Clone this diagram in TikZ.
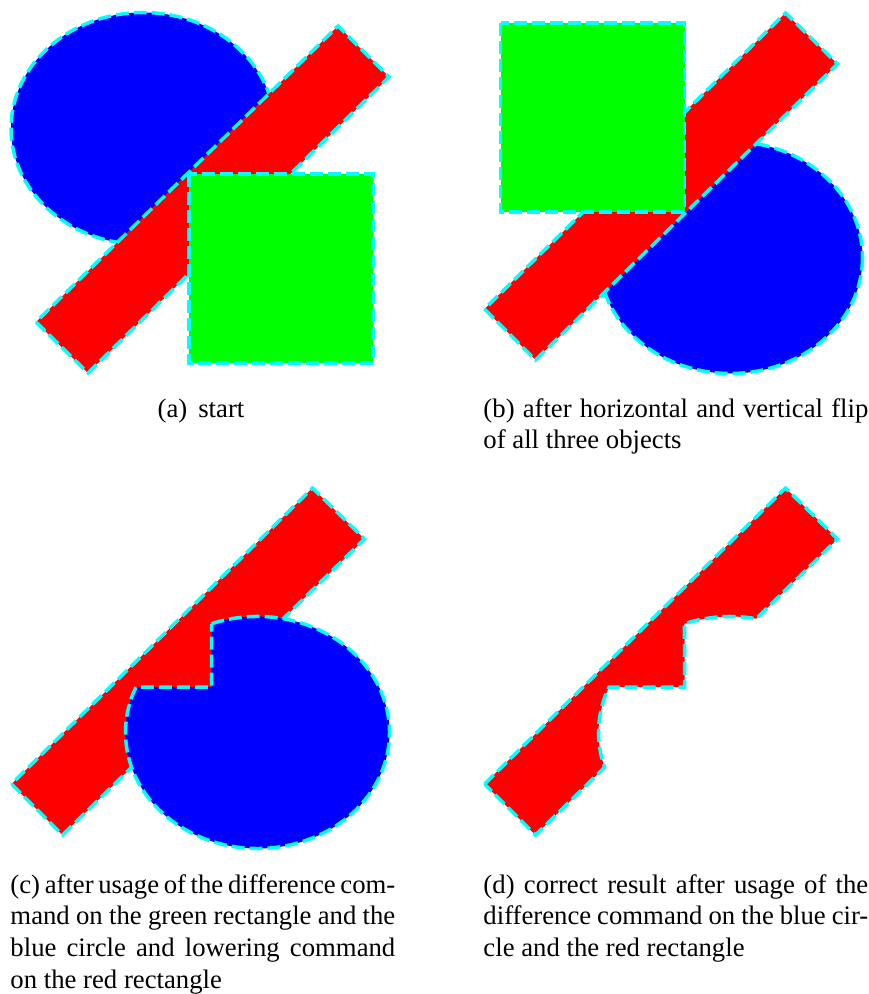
\documentclass[tikz,border=0pt]{standalone}
\usepackage{fontspec}
\setmainfont{Liberation Serif}
\definecolor{cblue}{RGB}{0,0,255}
\definecolor{cred}{RGB}{255,0,0}
\definecolor{cgreen}{RGB}{0,255,0}
\definecolor{ccyan}{RGB}{0,255,255}
\tikzset{
  outl/.style={draw=ccyan, line width=1.43pt, dash pattern=on 5.3pt off 2.04pt},
  bluefill/.style={fill=cblue, outl},
  redfill/.style={fill=cred, outl},
  greenfill/.style={fill=cgreen, outl},
  captfont/.style={font=\fontsize{10.9}{12.97}\selectfont},
  capt/.style={captfont, inner sep=0pt, text width=157pt, align=justify, anchor=base west},
}
\begin{document}
\begin{tikzpicture}[x=0.408pt, y=-0.408pt]
\useasboundingbox (0,0) rectangle (868,994);
% (a) start
\path[bluefill] (143,128.5) ellipse [x radius=132, y radius=116];
\path[redfill] (36,322) -- (88,373) -- (389,77) -- (338,26) -- cycle;
\path[greenfill] (189,174) rectangle (373,363);
% (b) flipped
\path[bluefill] (730.5,257.5) ellipse [x radius=132, y radius=116];
\path[redfill] (484.5,309) -- (535.5,360) -- (837.5,64) -- (785.5,13) -- cycle;
\path[greenfill] (500.5,23) rectangle (684.5,212);
% (c) difference green/blue, red lowered
\path[redfill] (11.5,784) -- (62.5,835) -- (364.5,539) -- (312.5,488) -- cycle;
\path[bluefill] (211.5,623.77) arc [start angle=-110.40, end angle=203.09, x radius=132, y radius=116]
  -- (211.5,687) -- cycle;
% (d) correct result
\path[redfill] (484.5,784) -- (785.5,488) -- (837.5,539) -- (756.2,618.7)
  arc [start angle=-78.77, end angle=-110.40, x radius=132, y radius=116]
  -- (684.5,687) -- (609.08,687)
  arc [start angle=-156.91, end angle=-197.46, x radius=132, y radius=116]
  -- (535.5,835) -- cycle;
% captions
\node[captfont, inner sep=0pt, anchor=base] (capa) at (201,417) {(a)\hspace{4.5pt}start};
\node[capt] (capb) at (483,417) {(b) after horizontal and vertical flip\linebreak of all three objects};
\node[capt] (capc) at (10,893) {(c) after usage of the difference com-\linebreak mand on the green rectangle and the\linebreak blue circle and lowering command\linebreak on the red rectangle};
\node[capt] (capd) at (483,893) {(d) correct result after usage of the\linebreak difference command on the blue cir-\linebreak cle and the red rectangle};
\end{tikzpicture}
\end{document}
